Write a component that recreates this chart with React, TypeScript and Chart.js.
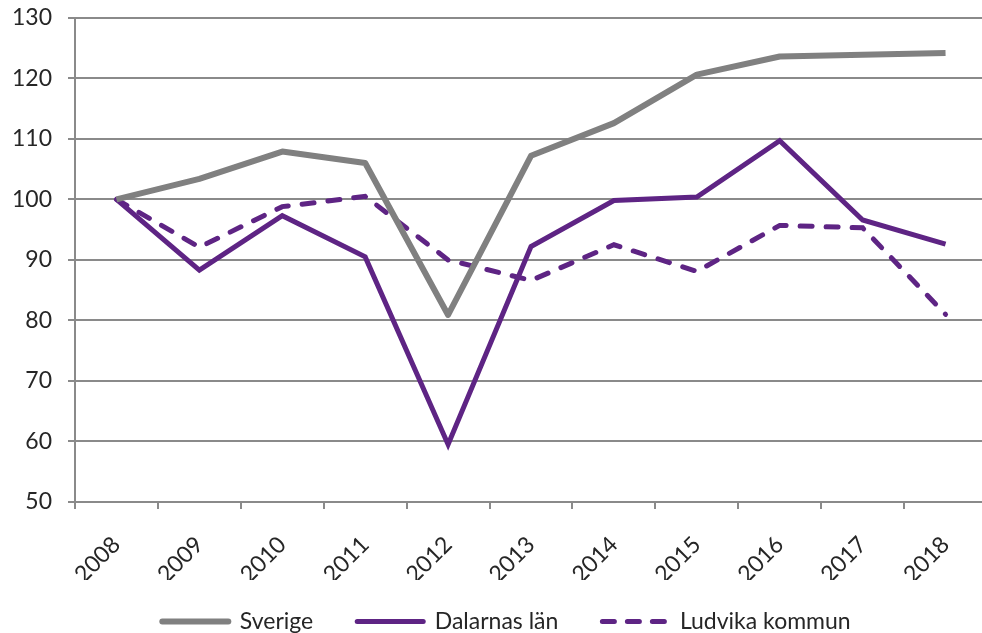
import React, { useEffect, useRef } from "react";
import { Chart, registerables } from "chart.js";

Chart.register(...registerables);

const years = ["2008", "2009", "2010", "2011", "2012", "2013", "2014", "2015", "2016", "2017", "2018"];
const sverige = [100, 103.4, 107.9, 106.0, 80.9, 107.2, 112.6, 120.6, 123.6, 123.9, 124.2];
const dalarna = [100, 88.3, 97.3, 90.5, 59.5, 92.2, 99.8, 100.4, 109.7, 96.6, 92.6];
const ludvika = [100, 92.1, 98.8, 100.5, 90.0, 86.6, 92.5, 88.1, 95.7, 95.3, 81.0];
const yTicks = { min: 50, max: 130, step: 10 };

const GRAY = "#808080";
const PURPLE = "#5e2484";
const GRID = "#8a8a8a";
const TEXT = "#262626";
const FONT = "Lato, 'Open Sans', sans-serif";

const legendShift = {
  id: "legendShift",
  afterLayout(chart: any) {
    const l = chart.legend;
    if (l) {
      l.left += 13;
      l.right += 13;
      l.top -= 14;
      l.bottom -= 14;
    }
  },
};

export default function App() {
  const ref = useRef<HTMLCanvasElement | null>(null);

  useEffect(() => {
    document.documentElement.style.overflow = "hidden";
    document.body.style.overflow = "hidden";
    const canvas = ref.current;
    if (!canvas) return;
    const chart = new Chart(canvas, {
      type: "line",
      plugins: [legendShift],
      data: {
        labels: years,
        datasets: [
          {
            label: "Sverige",
            data: sverige,
            borderColor: GRAY,
            backgroundColor: GRAY,
            borderWidth: 6,
            pointRadius: 0,
            tension: 0,
            borderJoinStyle: "round",
          },
          {
            label: "Dalarnas län",
            data: dalarna,
            borderColor: PURPLE,
            backgroundColor: PURPLE,
            borderWidth: 5,
            pointRadius: 0,
            tension: 0,
            borderJoinStyle: "miter",
          },
          {
            label: "Ludvika kommun",
            data: ludvika,
            borderColor: PURPLE,
            backgroundColor: PURPLE,
            borderWidth: 5,
            borderDash: [12, 14],
            borderCapStyle: "round",
            pointRadius: 0,
            tension: 0,
          },
        ],
      },
      options: {
        animation: false,
        responsive: false,
        maintainAspectRatio: false,
        layout: { padding: { left: 0, right: 33, top: 6, bottom: 0 } },
        plugins: {
          tooltip: { enabled: false },
          legend: {
            position: "bottom",
            labels: {
              usePointStyle: true,
              pointStyle: "line",
              pointStyleWidth: 66,
              boxWidth: 66,
              boxHeight: 23,
              padding: 44,
              color: TEXT,
              font: { family: FONT, size: 23 },
              generateLabels: (c: any) =>
                c.data.datasets.map((ds: any, i: number) => ({
                  text: ds.label,
                  fillStyle: ds.borderColor,
                  strokeStyle: ds.borderColor,
                  lineWidth: ds.borderWidth,
                  lineDash: ds.borderDash ? [12, 13] : [],
                  lineCap: "round",
                  pointStyle: "line",
                  fontColor: TEXT,
                  hidden: false,
                  datasetIndex: i,
                })),
            },
          },
        },
        scales: {
          x: {
            type: "category",
            offset: true,
            grid: {
              offset: true,
              drawOnChartArea: false,
              drawTicks: true,
              tickLength: 7,
              color: GRID,
              lineWidth: 2,
            },
            border: { display: true, color: GRID, width: 2 },
            ticks: {
              autoSkip: false,
              minRotation: 45,
              maxRotation: 45,
              padding: 22,
              color: TEXT,
              font: { family: FONT, size: 23 },
            },
            afterFit: (s: any) => {
              s.height = 78;
            },
          },
          y: {
            min: yTicks.min,
            max: yTicks.max,
            ticks: {
              stepSize: yTicks.step,
              padding: 16,
              color: TEXT,
              font: { family: FONT, size: 23 },
            },
            grid: {
              color: GRID,
              lineWidth: 2,
              tickLength: 7,
              drawTicks: true,
            },
            border: { display: true, color: GRID, width: 2 },
            afterFit: (s: any) => {
              s.width = 75;
            },
          },
        },
      },
    });
    return () => chart.destroy();
  }, []);

  return (
    <div style={{ position: "absolute", left: 0, top: -12, width: 1020, height: 669 }}>
      <canvas ref={ref} width={1020} height={669} style={{ width: 1020, height: 669, display: "block" }} />
    </div>
  );
}
